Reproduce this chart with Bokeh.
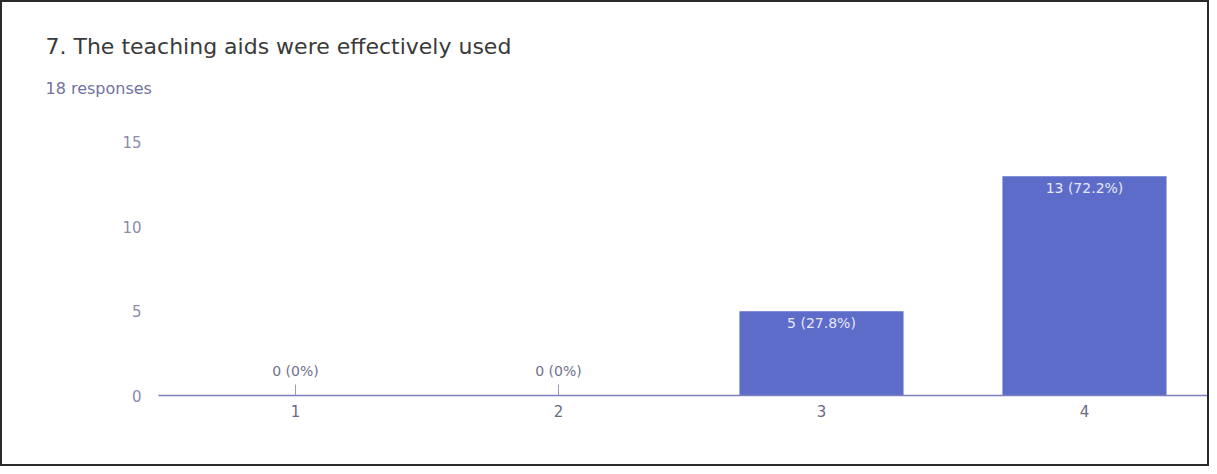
from bokeh.plotting import figure
from bokeh.models import Range1d, FixedTicker, ColumnDataSource, Title, LabelSet
from bokeh.embed import file_html
from bokeh.resources import INLINE
from bokeh.core.properties import value
import math

title_text = "7. The teaching aids were effectively used"
subtitle_text = "18 responses"
categories = [1, 2, 3, 4]
counts = [0, 0, 5, 13]
labels = ["0 (0%)", "0 (0%)", "5 (27.8%)", "13 (72.2%)"]
y_ticks = [0, 5, 10, 15]

FONT = "DejaVu Sans"
BAR = "#5d6cc9"

W, H = 1209, 466
LEFT, TOP, BOTTOM = 156, 100, 73

p = figure(width=W, height=H, output_backend="svg", toolbar_location=None,
           x_range=Range1d(0.479, 4.483), y_range=Range1d(0, 17.37),
           min_border_left=LEFT, min_border_right=0,
           min_border_top=TOP, min_border_bottom=BOTTOM)
p.styles = {"border": "2px solid #2a2a2a", "box-sizing": "border-box"}
p.outline_line_color = None
p.background_fill_color = "white"

sub = Title(text=subtitle_text, align="left", offset=45 - 2 - LEFT, standoff=10,
            text_font=FONT, text_font_size="16px", text_font_style="normal",
            text_color="#7272a0")
main = Title(text=title_text, align="left", offset=45 - 2 - LEFT, standoff=26,
             text_font=FONT, text_font_size="22px", text_font_style="normal",
             text_color="#3a3a3a")
p.add_layout(sub, "above")
p.add_layout(main, "above")

nz = ColumnDataSource(dict(x=[c for c, v in zip(categories, counts) if v > 0],
                           y=[v for v in counts if v > 0],
                           lab=[l for l, v in zip(labels, counts) if v > 0]))
zr = ColumnDataSource(dict(x=[c for c, v in zip(categories, counts) if v == 0],
                           y=[v for v in counts if v == 0],
                           lab=[l for l, v in zip(labels, counts) if v == 0]))

p.vbar(x="x", top="y", width=0.624, source=nz, fill_color=BAR, line_color=None)
p.ray(x="x", y="y", length=11, length_units="screen", angle=math.pi / 2,
      source=zr, line_color="#9a9ac0", line_width=1)

p.add_layout(LabelSet(x="x", y="y", text="lab", source=nz, text_align="center",
                      text_baseline="middle", y_offset=-12, text_color="#e6e8f8",
                      text_font=value(FONT), text_font_size="14px"))
p.add_layout(LabelSet(x="x", y="y", text="lab", source=zr, text_align="center",
                      text_baseline="middle", y_offset=25, text_color="#70708c",
                      text_font=value(FONT), text_font_size="14px"))

p.xaxis.ticker = FixedTicker(ticks=categories)
p.xaxis.axis_line_color = "#7b7fbf"
p.xaxis.axis_line_width = 1.5
p.xaxis.major_tick_line_color = None
p.xaxis.minor_tick_line_color = None
p.xaxis.major_label_text_font = FONT
p.xaxis.major_label_text_font_size = "15px"
p.xaxis.major_label_text_color = "#6a6a84"
p.xaxis.major_label_standoff = 3

p.yaxis.ticker = FixedTicker(ticks=y_ticks)
p.yaxis.axis_line_color = None
p.yaxis.major_tick_line_color = None
p.yaxis.minor_tick_line_color = None
p.yaxis.major_label_text_font = FONT
p.yaxis.major_label_text_font_size = "15px"
p.yaxis.major_label_text_color = "#8c8caa"
p.yaxis.major_label_standoff = 11

p.xgrid.grid_line_color = None
p.ygrid.grid_line_color = None

open("out.html", "w").write(file_html(p, INLINE))
